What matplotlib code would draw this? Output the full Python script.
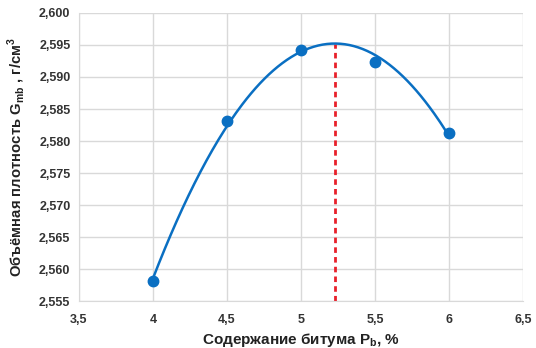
"""
    Bulk density vs bitumen content, with a 2nd order trend line.
"""

import numpy as np
import matplotlib.pyplot as plt

# data
bitumen_pct = [4.0, 4.5, 5.0, 5.5, 6.0]
density = [2.5581, 2.5831, 2.5942, 2.5923, 2.5813]

x_ticks = [3.5, 4, 4.5, 5, 5.5, 6, 6.5]
y_ticks = [2.555, 2.560, 2.565, 2.570, 2.575, 2.580, 2.585, 2.590, 2.595, 2.600]


def fmt(v: float, nd: int) -> str:
    s = f"{v:.{nd}f}" if nd else f"{v:g}"
    return s.replace(".", ",")


def main() -> None:
    plt.rcParams['font.family'] = ['Liberation Sans', 'DejaVu Sans']
    plt.rcParams['mathtext.fontset'] = 'custom'
    plt.rcParams['mathtext.rm'] = 'Liberation Sans:bold'

    fig = plt.figure(figsize=(5.36, 3.48), dpi=100)
    ax = fig.add_axes([0.147, 0.134, 0.829, 0.829])

    blue = '#0a6fc2'

    # quadratic trend line over the measured range
    coef = np.polyfit(bitumen_pct, density, 2)
    xs = np.linspace(min(bitumen_pct), max(bitumen_pct), 200)
    ax.plot(xs, np.polyval(coef, xs), color=blue, lw=1.8, zorder=3)
    ax.plot(bitumen_pct, density, 'o', color=blue, ms=7.5, zorder=4)

    # optimum at the vertex of the parabola
    x_opt = -coef[1] / (2 * coef[0])
    y_opt = np.polyval(coef, x_opt)
    ax.plot([x_opt, x_opt], [y_ticks[0], y_opt], color='#e8202a', lw=2,
            linestyle=(0, (2, 1.5)), zorder=2)

    ax.set_xlim(x_ticks[0], x_ticks[-1])
    ax.set_ylim(y_ticks[0], y_ticks[-1])
    ax.set_xticks(x_ticks)
    ax.set_xticklabels([fmt(v, 0) for v in x_ticks])
    ax.set_yticks(y_ticks)
    ax.set_yticklabels([fmt(v, 3) for v in y_ticks])

    ax.grid(True, color='#d9d9d9', lw=1)
    ax.set_axisbelow(True)
    for side in ['top', 'right']:
        ax.spines[side].set_visible(False)
    for side in ['left', 'bottom']:
        ax.spines[side].set_color('#d9d9d9')
    ax.tick_params(length=0, labelsize=9, labelcolor='#333333')
    ax.tick_params(axis='x', pad=9)
    ax.tick_params(axis='y', pad=6)
    for lab in ax.get_xticklabels() + ax.get_yticklabels():
        lab.set_fontweight('bold')

    ax.set_xlabel(r'Содержание битума P$_\mathregular{b}$, %', fontsize=11,
                  fontweight='bold', color='#222222', labelpad=4)
    ax.set_ylabel(r'Объёмная плотность G$_\mathregular{mb}$ , г/см$^\mathregular{3}$',
                  fontsize=10.7, fontweight='bold', color='#222222', labelpad=9)

    fig.savefig('out.png', dpi=100)


if __name__ == "__main__":
    main()
